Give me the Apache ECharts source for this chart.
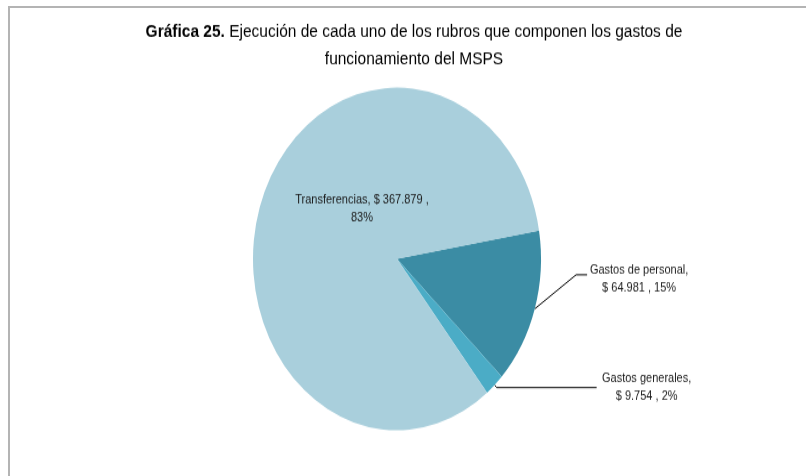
<!DOCTYPE html>
<html>
<head>
<meta charset="utf-8">
<script src="https://cdn.jsdelivr.net/npm/echarts@6/dist/echarts.min.js"></script>
<style>
  html, body { margin: 0; padding: 0; background: #fff; overflow: hidden; }
  #frame { position: absolute; left: 8px; top: 6px; width: 900px; height: 600px; border: 2px solid #b4b4b4; }
  /* the original picture is a round Excel pie stretched vertically */
  #chart { position: absolute; left: 0; top: 0; width: 806px; height: 400px; transform: scaleY(1.19); transform-origin: 0 0; }
</style>
</head>
<body>
<div id="frame"></div>
<div id="chart"></div>
<script>
var categories = ['Gastos de personal', 'Gastos generales', 'Transferencias'];
var values = [64981, 9754, 367879];
var colors = ['#3b8ca4', '#4bacc6', '#a9cfdc'];

function fmt(v) {
  return v.toString().replace(/\B(?=(\d{3})+(?!\d))/g, '.');
}

var chart = echarts.init(document.getElementById('chart'));
var pieData = [];
for (var i = 0; i < categories.length; i++) {
  pieData.push({ name: categories[i], value: values[i], itemStyle: { color: colors[i] } });
}
pieData[0].labelLine = { length: 15, length2: 35 };
pieData[0].label = { rich: { a: { width: 100 } } };
pieData[1].labelLine = { length: 3, length2: 100 };
pieData[1].label = { rich: { a: { width: 90 } } };
pieData[2].label = { position: 'inside' };

var option = {
  animation: false,
  title: {
    text: '{b|Gráfica 25.} Ejecución de cada uno de los rubros que componen los gastos de\nfuncionamiento del MSPS',
    left: 409,
    top: 10,
    textAlign: 'center',
    textStyle: {
      fontFamily: 'Liberation Sans',
      fontSize: 15.5,
      fontWeight: 'normal',
      color: '#000',
      lineHeight: 23,
      rich: {
        b: { fontFamily: 'Liberation Sans', fontSize: 15.5, fontWeight: 'bold', color: '#000', lineHeight: 23 }
      }
    }
  },
  series: [{
    type: 'pie',
    center: [397, 217.6],
    radius: 144,
    startAngle: 9.5,
    clockwise: true,
    silent: true,
    percentPrecision: 0,
    data: pieData,
    label: {
      fontFamily: 'Liberation Sans',
      fontSize: 11,
      lineHeight: 15,
      color: '#1a1a1a',
      align: 'center',
      rich: {
        a: { fontFamily: 'Liberation Sans', fontSize: 11, lineHeight: 15, color: '#1a1a1a', align: 'center' }
      },
      formatter: function (p) {
        if (p.dataIndex === 2) {
          return p.name + ', $ ' + fmt(p.value) + ' ,\n' + p.percent + '%';
        }
        return '{a|' + p.name + ',}\n{a|$ ' + fmt(p.value) + ' , ' + p.percent + '%}';
      }
    },
    labelLine: {
      lineStyle: { color: '#000', width: 1 }
    },
    labelLayout: function (params) {
      var r = params.labelRect;
      if (params.dataIndex === 0) {
        // Excel leader: from the slice edge straight up to the moved label
        var ly = r.y + r.height / 2 - 33;
        return {
          dy: -29,
          labelLinePoints: [params.labelLinePoints[0], [r.x - 13, ly], [r.x - 2, ly]]
        };
      }
      if (params.dataIndex === 2) return { dx: 35, dy: -15.6 };
      return {};
    }
  }]
};
chart.setOption(option);
</script>
</body>
</html>
